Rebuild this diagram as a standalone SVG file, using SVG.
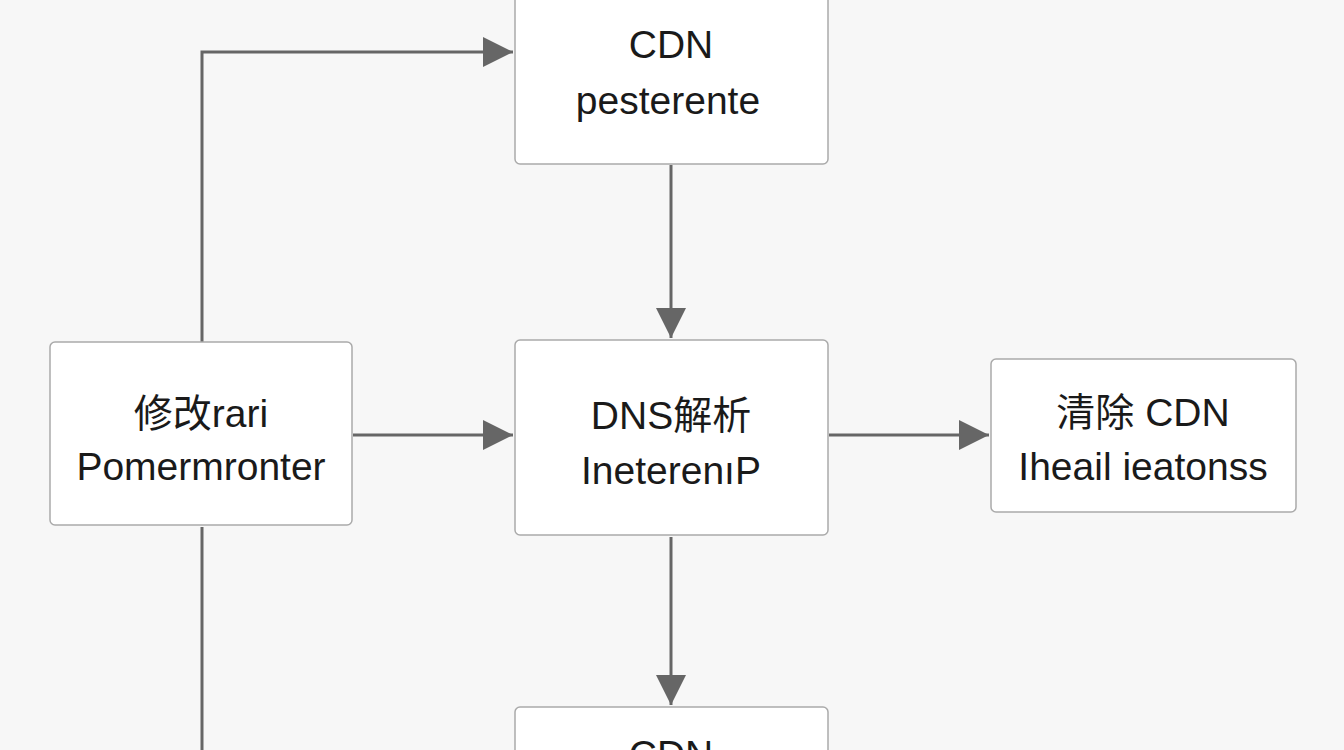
<svg xmlns="http://www.w3.org/2000/svg" width="1344" height="750" viewBox="0 0 1344 750">
<style>
.n{fill:#fff;stroke:#aaa;stroke-width:1.5}
.t{font-family:"Liberation Sans","Noto Sans CJK SC",sans-serif;font-size:39px;fill:#1a1a1a;text-anchor:middle}
.c{stroke:#666;stroke-width:3;fill:none}
</style>
<defs>
<marker id="b" viewBox="0 0 30 30" refX="30" refY="15" markerWidth="30" markerHeight="30" markerUnits="userSpaceOnUse" orient="auto"><path d="M0,0L30,15L0,30z" fill="#666"/></marker></defs>
<rect width="1344" height="750" fill="#f7f7f7"/>
<g id="connectors">
<path class="c" d="M202,342V52H513" marker-end="url(#b)"/>
<path class="c" d="M202,527V750"/>
<path class="c" d="M353,435H513" marker-end="url(#b)"/>
<path class="c" d="M829,435H989" marker-end="url(#b)"/>
<path class="c" d="M671,165V338" marker-end="url(#b)"/>
<path class="c" d="M671,537V705" marker-end="url(#b)"/>
</g>
<g id="cdn-top"><rect class="n" x="515" y="-6" width="313" height="170" rx="5"/><text class="t" x="671" y="58">CDN</text><text class="t" x="668" y="114">pesterente</text></g>
<g id="modify"><rect class="n" x="50" y="342" width="302" height="183" rx="5"/><text class="t" x="201" y="427">修改rari</text><text class="t" x="201" y="480">Pomermronter</text></g>
<g id="dns"><rect class="n" x="515" y="340" width="313" height="195" rx="5"/><text class="t" x="671" y="429">DNS解析</text><text class="t" x="671" y="484">IneterenıP</text></g>
<g id="clear"><rect class="n" x="991" y="359" width="305" height="153" rx="5"/><text class="t" x="1143" y="426">清除 CDN</text><text class="t" x="1143" y="480">Iheail ieatonss</text></g>
<g id="cdn-bottom"><rect class="n" x="515" y="707" width="313" height="80" rx="5"/><text class="t" x="671" y="768">CDN</text></g>
</svg>
